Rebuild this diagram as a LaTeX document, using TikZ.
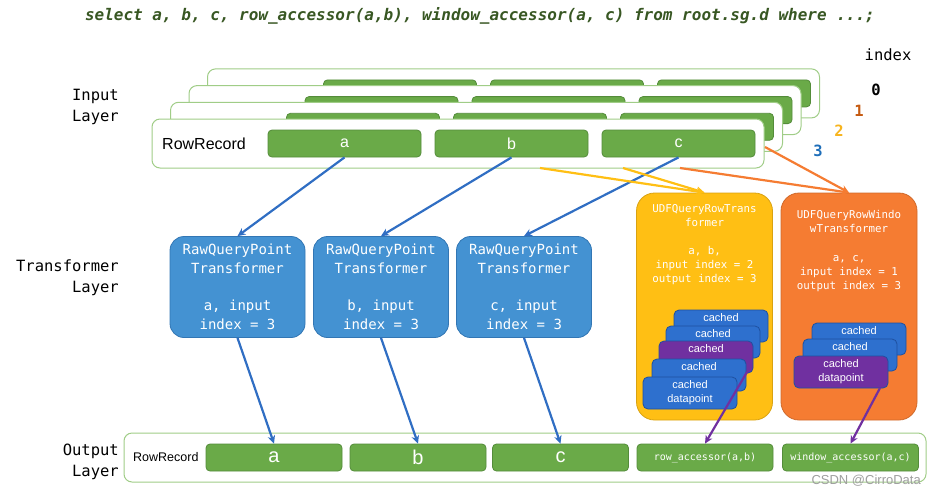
\documentclass[tikz,border=0pt]{standalone}
\usepackage{fontspec}
\setmainfont{Liberation Sans}
\setmonofont{DejaVu Sans Mono}
\usepackage{tikz}
\usetikzlibrary{arrows.meta, positioning}

\definecolor{titlegreen}{RGB}{56,87,35}
\definecolor{cellgreen}{RGB}{106,170,72}
\definecolor{cellborder}{RGB}{84,140,58}
\definecolor{recborder}{RGB}{160,205,135}
\definecolor{rawblue}{RGB}{68,146,210}
\definecolor{rawborder}{RGB}{50,118,180}
\definecolor{udfyellow}{RGB}{255,191,20}
\definecolor{udforange}{RGB}{245,124,50}
\definecolor{cardblue}{RGB}{46,112,206}
\definecolor{cardborder}{RGB}{30,80,160}
\definecolor{cardpurple}{RGB}{112,48,160}
\definecolor{arrowblue}{RGB}{48,110,195}
\definecolor{idxorange}{RGB}{197,90,17}
\definecolor{idxyellow}{RGB}{247,180,30}
\definecolor{idxblue}{RGB}{30,110,185}

\tikzset{
  record/.style={draw=recborder, fill=white, rounded corners=8pt, line width=1pt,
    minimum width=612pt, minimum height=49pt, inner sep=0pt},
  cell/.style={draw=cellborder, fill=cellgreen, rounded corners=4pt, line width=0.8pt,
    minimum width=153pt, minimum height=27pt, inner sep=0pt, text=white,
    font=\fontsize{16}{18}\selectfont},
  outcell/.style={cell, minimum width=136pt},
  rawbox/.style={draw=rawborder, fill=rawblue, rounded corners=14pt, line width=0.8pt,
    minimum width=135pt, minimum height=101pt, inner sep=0pt, align=center, text=white,
    font=\ttfamily\fontsize{14}{19}\selectfont},
  udfbox/.style={draw=#1!85!black, fill=#1, rounded corners=18pt, line width=0.8pt,
    minimum width=136pt, minimum height=227pt, inner sep=0pt},
  udftext/.style={align=center, text=white, inner sep=0pt,
    font=\ttfamily\fontsize{10.8}{14}\selectfont},
  card/.style={draw=cardborder, fill=#1, rounded corners=5pt, line width=0.8pt,
    minimum width=94pt, minimum height=32pt, inner sep=0pt, align=center, text=white,
    font=\fontsize{11}{14}\selectfont},
  layer/.style={anchor=east, align=right, inner sep=0pt,
    font=\ttfamily\fontsize{15.5}{21}\selectfont},
  idx/.style={inner sep=0pt, font=\ttfamily\bfseries\fontsize{15.5}{16}\selectfont},
  flow/.style={line width=2.2pt, -{Stealth[length=8pt, width=7.5pt]}}
}

\begin{document}
\begin{tikzpicture}[x=1pt, y=-1pt]
  \useasboundingbox (0,0) rectangle (936,496);

  % Title
  \node[text=titlegreen, font=\ttfamily\bfseries\itshape\fontsize{16}{18}\selectfont]
    (title) at (480,16) {select a, b, c, row\_accessor(a,b), window\_accessor(a, c) from root.sg.d where ...;};

  % Layer names
  \node[layer] (inLayer) at (119,107) {Input\\Layer};
  \node[layer] (trLayer) at (119,277.5) {Transformer\\Layer};
  \node[layer] (outLayer) at (119,462) {Output\\Layer};

  % Index numbers
  \node[idx, font=\ttfamily\fontsize{15.5}{16}\selectfont] (idxName) at (888,55) {index};
  \node[idx] (idx0) at (876,90) {0};
  \node[idx, text=idxorange] (idx1) at (859,111) {1};
  \node[idx, text=idxyellow] (idx2) at (839,131) {2};
  \node[idx, text=idxblue] (idx3) at (818,151) {3};

  % Input records, back to front
  \foreach \i in {0,1,2} {
    \begin{scope}[shift={({(3-\i)*18.5},{-(3-\i)*16.7})}]
      \node[record] (rec\i) at (458,143.5) {};
      \foreach \n/\x in {a/344.5, b/511.5, c/678.5}
        \node[cell] (rec\i-\n) at (\x,143.5) {};
    \end{scope}
  }
  \node[record] (rec3) at (458,143.5) {};
  \node[anchor=west, inner sep=0pt, font=\fontsize{16}{18}\selectfont] (recLabel) at (162,143.5) {RowRecord};
  \foreach \n/\x in {a/344.5, b/511.5, c/678.5}
    \node[cell] (rec3-\n) at (\x,143.5) {\n};

  % Raw transformers
  \foreach \n/\x in {a/237.5, b/381, c/524}
    \node[rawbox] (raw\n) at (\x,287) {RawQueryPoint\\Transformer\\[18pt]\n, input\\index = 3};

  % UDF transformers
  \node[udfbox=udfyellow] (rowT) at (704.5,306.5) {};
  \node[udftext] (rowTtxt) at (704.5,245) {UDFQueryRowTrans\\former\\[14pt]a, b,\\input index = 2\\output index = 3};
  \node[udfbox=udforange] (winT) at (849,306.5) {};
  \node[udftext] (winTtxt) at (849,251.5) {UDFQueryRowWindo\\wTransformer\\[15pt]a, c,\\input index = 1\\output index = 3};

  % Cached datapoints
  \foreach \k/\x/\y/\c in {1/721/326/cardblue, 2/713/342/cardblue, 3/706/357/cardpurple, 4/699/375/cardblue}
    \node[card=\c] (rowC\k) at (\x,\y) {cached\\\phantom{datapoint}};
  \node[card=cardblue] (rowC5) at (690,393) {cached\\datapoint};
  \foreach \k/\x/\y/\c in {1/859/339/cardblue, 2/850/355/cardblue}
    \node[card=\c] (winC\k) at (\x,\y) {cached\\\phantom{datapoint}};
  \node[card=cardpurple] (winC3) at (841,372) {cached\\datapoint};

  % Output record
  \node[record, minimum width=802pt] (outRec) at (525,457.5) {};
  \node[anchor=west, inner sep=0pt, font=\fontsize{12.5}{14}\selectfont] (outLabel) at (133,457.5) {RowRecord};
  \foreach \n/\x in {a/274, b/418, c/560.5}
    \node[outcell, font=\fontsize{20}{22}\selectfont] (out-\n) at (\x,457.5) {\n};
  \node[outcell, font=\ttfamily\fontsize{10}{12}\selectfont] (out-row) at (705,457.5) {row\_accessor(a,b)};
  \node[outcell, font=\ttfamily\fontsize{10}{12}\selectfont] (out-win) at (850.5,457.5) {window\_accessor(a,c)};

  % Watermark
  \node[anchor=east, inner sep=0pt, text=gray!75, font=\fontsize{13}{14}\selectfont] (mark) at (921,481) {CSDN @CirroData};

  % Free ends of the fan-in arrows
  \coordinate (ylA) at (540,168);
  \coordinate (ylB) at (623,168);
  \coordinate (orA) at (765,147);
  \coordinate (orB) at (680,168);
  \coordinate (rowP) at (747,372);
  \coordinate (winP) at (880,388);

  % Arrows
  \foreach \n in {a,b,c} {
    \draw[flow, arrowblue] (rec3-\n.south) -- (raw\n.north);
    \draw[flow, arrowblue] (raw\n.south) -- (out-\n.north);
  }
  \draw[flow, udfyellow] (ylA) -- (rowT.north);
  \draw[flow, udfyellow] (ylB) -- (rowT.north);
  \draw[flow, udforange] (orA) -- (winT.north);
  \draw[flow, udforange] (orB) -- (winT.north);
  \draw[flow, cardpurple] (rowP) -- (out-row.north);
  \draw[flow, cardpurple] (winP) -- (out-win.north);
\end{tikzpicture}
\end{document}
